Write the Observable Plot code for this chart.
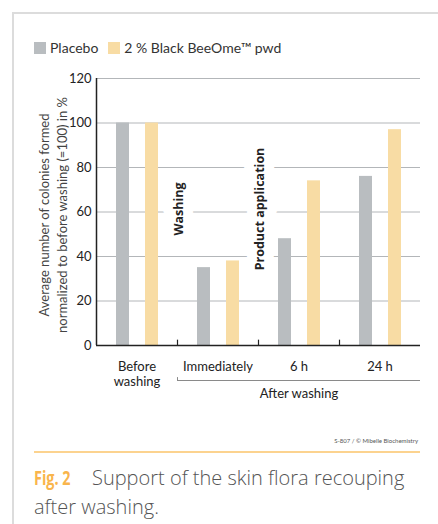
<!DOCTYPE html>
<html>
<head>
<meta charset="utf-8">
<script src="https://cdn.jsdelivr.net/npm/d3@7"></script>
<script src="https://cdn.jsdelivr.net/npm/@observablehq/plot@0.6"></script>
<style>
  html, body { margin: 0; padding: 0; background: #fff; }
  #wrap { position: relative; width: 438px; height: 524px; overflow: hidden; background: #fff; font-family: Lato, "Open Sans", sans-serif; }
  #frame { position: absolute; left: 12px; top: 12px; right: -10px; bottom: -10px; border-left: 2px solid #dcdcdc; border-top: 2px solid #dcdcdc; }
  #legend { position: absolute; left: 34px; top: 39px; display: flex; align-items: center; font-size: 14px; color: #333; white-space: nowrap; }
  #legend .sw { display: inline-block; width: 12px; height: 12px; margin-right: 4px; }
  #legend .item { display: flex; align-items: center; margin-right: 10px; }
  #chart { position: absolute; left: 0; top: 60px; }
  #credit { position: absolute; right: 20px; top: 437px; font-size: 6px; color: #555; }
  #rule { position: absolute; left: 34px; width: 386px; top: 451px; height: 2px; background: #fcd38f; }
  #fig { position: absolute; left: 34px; top: 463px; font-size: 20px; line-height: 29px; color: #f9b54c; font-weight: bold; font-family: "Open Sans", Lato, sans-serif; transform: scaleX(0.72); transform-origin: 0 50%; white-space: nowrap; }
  .cap { position: absolute; font-size: 20px; line-height: 29px; color: #555; font-family: "Open Sans", Lato, sans-serif; font-weight: 300; white-space: nowrap; }
  #cap1 { left: 92px; top: 463px; }
  #cap2 { left: 34px; top: 492px; }
</style>
</head>
<body>
<div id="wrap">
  <div id="frame"></div>
  <div id="legend"></div>
  <div id="chart"></div>
  <div id="credit">S-807 / © Mibelle Biochemistry</div>
  <div id="rule"></div>
  <div id="fig">Fig. 2</div>
  <div class="cap" id="cap1">Support of the skin flora recouping</div>
  <div class="cap" id="cap2">after washing.</div>
</div>
<script>
// ---- data ----
const groups = ["Before\nwashing", "Immediately", "6 h", "24 h"];
const seriesNames = ["Placebo", "2 % Black BeeOme™ pwd"];
const placebo = [100, 35, 48, 76];
const beeome = [100, 38, 74, 97];
const yTicks = [0, 20, 40, 60, 80, 100, 120];
const seriesColors = ["#b9bdc0", "#f8dca4"];
const annotations = [
  {at: groups[1], text: "Washing"},
  {at: groups[2], text: "Product application"}
];
const afterLabel = "After washing";
const yTitle = "Average number of colonies formed\nnormalized to before washing (=100) in %";

// ---- table ----
const rows = groups.map((g, i) => ({group: g, placebo: placebo[i], beeome: beeome[i]}));

// ---- legend ----
const legend = document.getElementById("legend");
seriesNames.forEach((name, i) => {
  const item = document.createElement("span");
  item.className = "item";
  const sw = document.createElement("span");
  sw.className = "sw";
  sw.style.background = seriesColors[i];
  item.appendChild(sw);
  item.appendChild(document.createTextNode(name));
  legend.appendChild(item);
});

const band = (420 - 96) / groups.length;
const font = "Lato, 'Open Sans', sans-serif";

const plot = Plot.plot({
  width: 438,
  height: 360,
  marginLeft: 96,
  marginRight: 18,
  marginTop: 18,
  marginBottom: 75,
  style: {fontFamily: font, background: "transparent", overflow: "visible"},
  x: {domain: groups, padding: 0, axis: null},
  y: {domain: [0, 120], axis: null},
  marks: [
    Plot.gridY(yTicks, {stroke: "#b3b6b9", strokeOpacity: 1, strokeWidth: 1}),
    Plot.barY(rows, {x: "group", y: "placebo", fill: seriesColors[0], insetLeft: 20, insetRight: 48}),
    Plot.barY(rows, {x: "group", y: "beeome", fill: seriesColors[1], insetLeft: 49, insetRight: 19}),
    Plot.text(annotations, {
      x: "at", text: "text", dx: -band / 2 + 1, frameAnchor: "middle", dy: -3,
      rotate: -90, fontSize: 12.5, fontWeight: "bold", fill: "#222",
      stroke: "white", strokeWidth: 20, fontFamily: "'Open Sans', Lato, sans-serif"
    }),
    Plot.ruleY([0], {stroke: "#222", strokeWidth: 1.5}),
    Plot.ruleX([0], {x: () => groups[0], dx: -band / 2, y1: 0, y2: 120, stroke: "#222", strokeWidth: 1.5}),
    Plot.ruleX(groups.slice(1), {x: d => d, dx: -band / 2, y1: 0, y2: 2.4, stroke: "#222", strokeWidth: 1.2}),
    Plot.axisY(yTicks, {tickSize: 0, tickPadding: 5, fontSize: 13, fill: "#222", label: null}),
    Plot.text(groups, {x: d => d, text: d => d, frameAnchor: "bottom", lineAnchor: "top", dy: 14, fontSize: 13, lineHeight: 1.2, fill: "#222"}),
    Plot.ruleY([0], {x1: () => groups[1], x2: () => groups[3], dy: 35, stroke: "#8a8a8a", strokeWidth: 1}),
    Plot.ruleX([0], {x: () => groups[1], dx: -band / 2, y1: 0, y2: 1.3, dy: 35, stroke: "#8a8a8a", strokeWidth: 1}),
    Plot.text([afterLabel], {x: () => groups[2], text: d => d, frameAnchor: "bottom", dy: 52, fontSize: 13, fill: "#222"}),
    Plot.text([yTitle], {text: d => d, frameAnchor: "left", textAnchor: "middle", dx: -44, dy: 3, rotate: -90, fontSize: 13, lineHeight: 1.35, fill: "#444"})
  ]
});
document.getElementById("chart").appendChild(plot);
</script>
</body>
</html>
